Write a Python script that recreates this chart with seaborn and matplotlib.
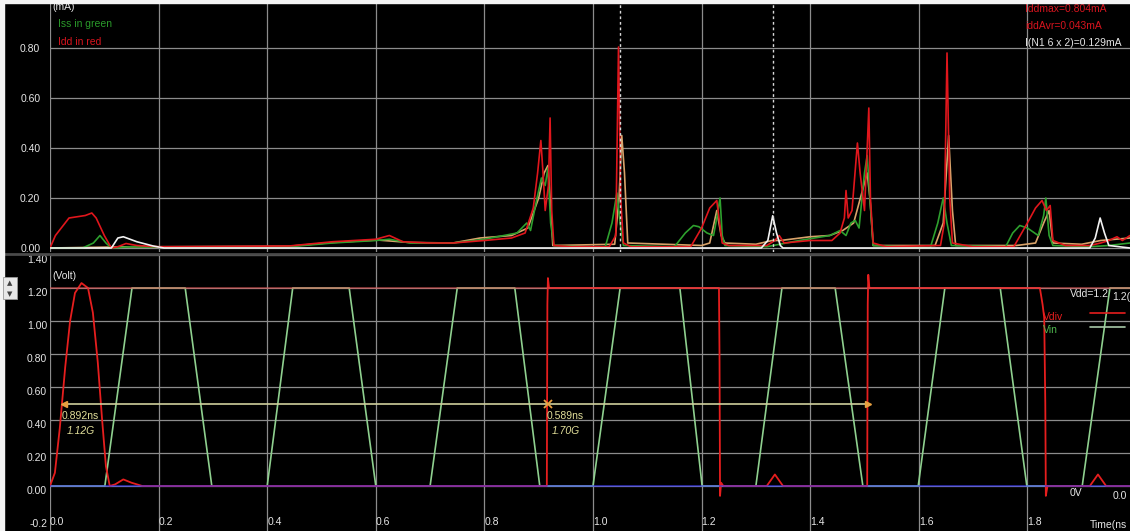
import matplotlib
matplotlib.use("Agg")
import matplotlib.pyplot as plt
import seaborn as sns
from matplotlib.lines import Line2D
from matplotlib.patches import Rectangle

# ---------------- supply currents (time in ns, current in mA) ----------------
idd_t = [0.000, 0.010, 0.035, 0.050, 0.065, 0.077, 0.085, 0.100, 0.113, 0.125, 0.140, 0.160,
         0.200, 0.300, 0.440, 0.520, 0.600, 0.625, 0.650, 0.700, 0.742, 0.800, 0.850, 0.875,
         0.890, 0.898, 0.904, 0.908, 0.912, 0.918, 0.921, 0.924, 0.928, 0.960, 1.030, 1.042,
         1.047, 1.051, 1.056, 1.070, 1.180, 1.200, 1.215, 1.228, 1.232, 1.238, 1.250, 1.320,
         1.335, 1.343, 1.352, 1.400, 1.440, 1.455, 1.463, 1.466, 1.470, 1.477, 1.487, 1.492,
         1.500, 1.505, 1.508, 1.511, 1.516, 1.540, 1.640, 1.647, 1.652, 1.657, 1.662, 1.700,
         1.775, 1.800, 1.815, 1.827, 1.835, 1.842, 1.847, 1.870, 1.915, 1.935, 1.950, 1.965,
         1.975, 1.989]
idd_ma = [0.000, 0.050, 0.120, 0.125, 0.130, 0.140, 0.120, 0.050, 0.000, 0.005, 0.018, 0.010,
          0.005, 0.006, 0.008, 0.025, 0.035, 0.050, 0.025, 0.020, 0.020, 0.030, 0.040, 0.060,
          0.160, 0.300, 0.430, 0.300, 0.150, 0.250, 0.520, 0.150, 0.010, 0.005, 0.005, 0.050,
          0.804, 0.200, 0.020, 0.005, 0.005, 0.080, 0.160, 0.190, 0.120, 0.020, 0.010, 0.010,
          0.030, 0.050, 0.020, 0.030, 0.030, 0.060, 0.120, 0.230, 0.120, 0.150, 0.420, 0.300,
          0.150, 0.400, 0.560, 0.200, 0.020, 0.005, 0.010, 0.100, 0.780, 0.200, 0.020, 0.005,
          0.005, 0.100, 0.160, 0.190, 0.150, 0.170, 0.030, 0.010, 0.010, 0.020, 0.030, 0.045,
          0.030, 0.050]

iss_t = [0.000, 0.060, 0.080, 0.092, 0.103, 0.113, 0.150, 0.200, 0.440, 0.520, 0.600, 0.625,
         0.663, 0.742, 0.800, 0.860, 0.878, 0.885, 0.895, 0.905, 0.912, 0.917, 0.922, 0.928,
         1.022, 1.035, 1.044, 1.050, 1.056, 1.150, 1.170, 1.185, 1.195, 1.210, 1.222, 1.228,
         1.234, 1.238, 1.243, 1.320, 1.380, 1.436, 1.455, 1.466, 1.475, 1.483, 1.490, 1.500,
         1.505, 1.510, 1.516, 1.621, 1.635, 1.645, 1.652, 1.660, 1.760, 1.773, 1.786, 1.800,
         1.820, 1.830, 1.834, 1.840, 1.847, 1.915, 1.950, 1.989]
iss_ma = [0.000, 0.000, 0.020, 0.050, 0.020, 0.000, 0.005, 0.003, 0.005, 0.020, 0.030, 0.035,
          0.020, 0.020, 0.035, 0.060, 0.100, 0.070, 0.180, 0.280, 0.250, 0.320, 0.100, 0.010,
          0.000, 0.100, 0.220, 0.100, 0.010, 0.005, 0.060, 0.090, 0.085, 0.060, 0.050, 0.120,
          0.200, 0.050, 0.010, 0.005, 0.030, 0.050, 0.070, 0.050, 0.100, 0.110, 0.080, 0.300,
          0.370, 0.200, 0.010, 0.000, 0.100, 0.200, 0.100, 0.010, 0.005, 0.060, 0.090, 0.080,
          0.050, 0.130, 0.200, 0.050, 0.010, 0.005, 0.010, 0.020]

ivdd_t = [0.000, 0.150, 0.200, 0.440, 0.520, 0.602, 0.663, 0.742, 0.792, 0.850, 0.880, 0.900,
          0.910, 0.917, 0.921, 0.926, 1.040, 1.048, 1.053, 1.058, 1.064, 1.200, 1.215, 1.228,
          1.236, 1.243, 1.300, 1.330, 1.345, 1.400, 1.436, 1.460, 1.480, 1.505, 1.510, 1.516,
          1.630, 1.645, 1.655, 1.662, 1.668, 1.780, 1.815, 1.830, 1.840, 1.847, 1.900, 1.935,
          1.989]
ivdd_ma = [0.000, 0.005, 0.005, 0.007, 0.022, 0.032, 0.022, 0.020, 0.040, 0.050, 0.080, 0.200,
           0.300, 0.330, 0.200, 0.010, 0.015, 0.200, 0.450, 0.300, 0.020, 0.010, 0.020, 0.150,
           0.050, 0.020, 0.015, 0.030, 0.030, 0.045, 0.050, 0.070, 0.100, 0.300, 0.200, 0.010,
           0.010, 0.100, 0.450, 0.150, 0.010, 0.010, 0.020, 0.100, 0.150, 0.020, 0.015, 0.030,
           0.040]

in1_t = [0.000, 0.113, 0.125, 0.135, 0.160, 0.190, 0.210, 1.310, 1.322, 1.331, 1.338, 1.345,
         1.350, 1.915, 1.925, 1.934, 1.942, 1.950, 1.989]
in1_ma = [0.000, 0.000, 0.040, 0.045, 0.025, 0.008, 0.000, 0.000, 0.030, 0.129, 0.060, 0.010,
          0.000, 0.000, 0.040, 0.120, 0.060, 0.010, 0.000]

# ---------------- node voltages (time in ns, volts) ----------------
vdd_level = 1.2
time_span = [0.0, 1.989]

vin_t = [0.000, 0.101, 0.151, 0.249, 0.298, 0.400, 0.447, 0.551, 0.600, 0.700, 0.750, 0.856,
         0.902, 1.000, 1.050, 1.160, 1.201, 1.300, 1.348, 1.446, 1.497, 1.599, 1.648, 1.750,
         1.799, 1.901, 1.952, 1.989]
vin_v = [0.0, 0.0, 1.2, 1.2, 0.0, 0.0, 1.2, 1.2, 0.0, 0.0, 1.2, 1.2,
         0.0, 0.0, 1.2, 1.2, 0.0, 0.0, 1.2, 1.2, 0.0, 0.0, 1.2, 1.2,
         0.0, 0.0, 1.2, 1.2]

vdiv_t = [0.000, 0.009, 0.018, 0.028, 0.037, 0.046, 0.058, 0.070, 0.079, 0.088, 0.096, 0.103,
          0.110, 0.120, 0.135, 0.150, 0.170, 0.915, 0.916, 0.917, 0.919, 1.232, 1.233, 1.234,
          1.236, 1.240, 1.320, 1.335, 1.350, 1.505, 1.506, 1.507, 1.509, 1.823, 1.828, 1.831,
          1.833, 1.834, 1.837, 1.915, 1.930, 1.945, 1.989]
vdiv_v = [0.00, 0.08, 0.35, 0.72, 1.00, 1.17, 1.23, 1.20, 1.05, 0.75, 0.40, 0.12,
          0.00, 0.01, 0.04, 0.02, 0.00, 0.00, 1.10, 1.26, 1.20, 1.20, 0.80, -0.06,
          0.02, 0.00, 0.00, 0.07, 0.00, 0.00, 1.10, 1.28, 1.20, 1.20, 1.10, 1.02,
          0.50, -0.06, 0.00, 0.00, 0.07, 0.00, 0.00]

gnd_v = [0.0, 0.0]

# period measurement markers on Vdiv (ns) at the 0.5 V crossing
meas_t = [0.025, 0.917, 1.506]
meas_level = 0.5

# tick values
i_ticks = [0.0, 0.2, 0.4, 0.6, 0.8]
v_ticks = [-0.2, 0.0, 0.2, 0.4, 0.6, 0.8, 1.0, 1.2, 1.4]
t_ticks = [0.0, 0.2, 0.4, 0.6, 0.8, 1.0, 1.2, 1.4, 1.6, 1.8]
cursor_t = [1.050, 1.331]

# ---------------- styling ----------------
sns.set_theme(style="dark")
plt.rcParams["font.family"] = ["Liberation Sans", "DejaVu Sans"]
plt.rcParams["axes.facecolor"] = "black"
plt.rcParams["figure.facecolor"] = "black"

GRID = "#8c8c8c"
LABEL = "#e6e6e6"
FS = 7.5

W, H = 1130, 531
fig = plt.figure(figsize=(W / 100, H / 100), dpi=100)


def fx(px):
    return px / W


def fy(py):
    return 1 - py / H


ax_i = fig.add_axes([fx(50), fy(252), 1080 / W, 249 / H])
ax_v = fig.add_axes([fx(50), 0, 1080 / W, 276 / H])

for ax in (ax_i, ax_v):
    ax.set_facecolor("black")
    for s in ax.spines.values():
        s.set_visible(False)
    ax.set_xlim(time_span)
    ax.set_xticks(t_ticks)
    ax.grid(True, color=GRID, lw=0.9)
    ax.set_axisbelow(True)

# ---- current panel ----
ax_i.set_ylim(-0.016, 0.98)
ax_i.set_yticks(i_ticks)
ax_i.set_yticklabels([f"{v:.2f}" for v in i_ticks])
ax_i.tick_params(axis="y", length=0, pad=7, labelsize=FS, labelcolor=LABEL)
ax_i.tick_params(axis="x", length=0, labelbottom=False)

line_kw = dict(sort=False, estimator=None, legend=False)
sns.lineplot(x=ivdd_t, y=ivdd_ma, ax=ax_i, color="#d9a36a", lw=1.2, **line_kw)
sns.lineplot(x=iss_t, y=iss_ma, ax=ax_i, color="#2ea02e", lw=1.2, **line_kw)
sns.lineplot(x=idd_t, y=idd_ma, ax=ax_i, color="#e0161c", lw=1.2, **line_kw)
sns.lineplot(x=in1_t, y=in1_ma, ax=ax_i, color="#f2f2f2", lw=1.2, **line_kw)
for ct in cursor_t:
    ax_i.axvline(ct, color="#d8d8d8", lw=1.0, ls=(0, (2, 2)))
ax_i.set_xlabel("")
ax_i.set_ylabel("")

# ---- voltage panel ----
ax_v.set_ylim(-0.2727, 1.4)
ax_v.set_yticks(v_ticks)
ax_v.set_yticklabels([f"{v:.2f}" if v >= 0 else f"{v:.1f}" for v in v_ticks])
ax_v.tick_params(axis="y", length=0, pad=2, labelsize=FS, labelcolor=LABEL)
for lab in ax_v.get_yticklabels():
    lab.set_va("top")
ax_v.get_ygridlines()[0].set_visible(False)
ax_v.set_xticklabels([f"{v:.1f}" for v in t_ticks])
ax_v.tick_params(axis="x", length=0, pad=-10, labelsize=FS, labelcolor=LABEL)
for lab in ax_v.get_xticklabels():
    lab.set_ha("left")

sns.lineplot(x=vin_t, y=vin_v, ax=ax_v, color="#8fd08f", lw=1.2, **line_kw)
sns.lineplot(x=vdiv_t, y=vdiv_v, ax=ax_v, color="#e61e1e", lw=1.3, **line_kw)
sns.lineplot(x=time_span, y=[vdd_level, vdd_level], ax=ax_v, color="#e05050",
             lw=1.2, alpha=0.6, **line_kw)
sns.lineplot(x=time_span, y=gnd_v, ax=ax_v, color="#3a3aff", lw=1.4, alpha=0.55, **line_kw)
ax_v.set_xlabel("")
ax_v.set_ylabel("")

# period / frequency measurement
ax_v.plot([meas_t[0], meas_t[2]], [meas_level, meas_level], color="#cfcf9c", lw=1.2)
ax_v.plot(meas_t[0], meas_level, marker="<", ms=4, color="#e8a040", ls="none")
ax_v.plot(meas_t[2], meas_level, marker=">", ms=4, color="#e8a040", ls="none")
ax_v.plot(meas_t[1], meas_level, marker="x", ms=6, mew=1.3, color="#e8a040", ls="none")
for a, b, dx in ((meas_t[0], meas_t[1], 0), (meas_t[1], meas_t[2], 1)):
    dt = b - a
    ax_v.annotate(f"{dt:.3f}ns", xy=(a, meas_level), xytext=(dx - 2, -12),
                  textcoords="offset pixels", ha="left", va="center",
                  color="#e2df9a", fontsize=FS)
    ax_v.annotate(f"{1 / dt:.2f}G", xy=(a, meas_level), xytext=(dx + 3, -27),
                  textcoords="offset pixels", ha="left", va="center",
                  color="#e2df9a", fontsize=FS, style="italic")

# ---- annotations ----
fig.text(fx(52), fy(7), "(mA)", color=LABEL, fontsize=FS, va="center")
fig.text(fx(58), fy(24), "Iss in green", color="#2a9a2a", fontsize=FS, va="center")
fig.text(fx(58), fy(42), "Idd in red", color="#d8141e", fontsize=FS, va="center")
fig.text(fx(1025), fy(9), "Iddmax=0.804mA", color="#d8141e", fontsize=FS, va="center")
fig.text(fx(1025), fy(26), "iddAvr=0.043mA", color="#d8141e", fontsize=FS, va="center")
fig.text(fx(1025), fy(43), "I(N1 6 x 2)=0.129mA", color=LABEL, fontsize=FS, va="center")

fig.text(fx(52), fy(276), "(Volt)", color=LABEL, fontsize=FS, va="center")
fig.text(fx(1070), fy(294), "Vdd=1.2", color=LABEL, fontsize=FS, va="center")
fig.text(fx(1112), fy(297), "1.2(", color=LABEL, fontsize=FS, va="center")
fig.text(fx(1043), fy(317), "Vdiv", color="#e61e1e", fontsize=FS, va="center")
fig.text(fx(1043), fy(330), "Vin", color="#4fb84f", fontsize=FS, va="center")
fig.add_artist(Line2D([fx(1090), fx(1125)], [fy(313), fy(313)], color="#e61e1e", lw=1.2))
fig.add_artist(Line2D([fx(1090), fx(1125)], [fy(327), fy(327)], color="#a8c8a8", lw=1.2))
fig.text(fx(1070), fy(493), "0V", color=LABEL, fontsize=FS, va="center")
fig.text(fx(1113), fy(496), "0.0", color=LABEL, fontsize=FS, va="center")
fig.text(fx(1090), fy(525), "Time(ns", color=LABEL, fontsize=FS, va="center")

# panel separator and window frame
fig.add_artist(Line2D([fx(0), fx(W)], [fy(253.5), fy(253.5)], color="#4a4a4a", lw=2.0))
fig.add_artist(Rectangle((0, 0), fx(4), 1, color="#f4f4f4", transform=fig.transFigure, zorder=5))
fig.add_artist(Rectangle((0, fy(3)), 1, 3 / H, color="#f4f4f4", transform=fig.transFigure, zorder=5))
fig.add_artist(Rectangle((fx(3), fy(299)), 14 / W, 22 / H, facecolor="#e8e8e8",
                         edgecolor="#9a9a9a", lw=0.6, transform=fig.transFigure, zorder=6))
fig.text(fx(10), fy(283), "\u25b2", color="#404040", fontsize=5, ha="center", va="center",
         family="DejaVu Sans", zorder=7)
fig.text(fx(10), fy(294), "\u25bc", color="#404040", fontsize=5, ha="center", va="center",
         family="DejaVu Sans", zorder=7)

fig.savefig("out.png", dpi=100, facecolor="black")
